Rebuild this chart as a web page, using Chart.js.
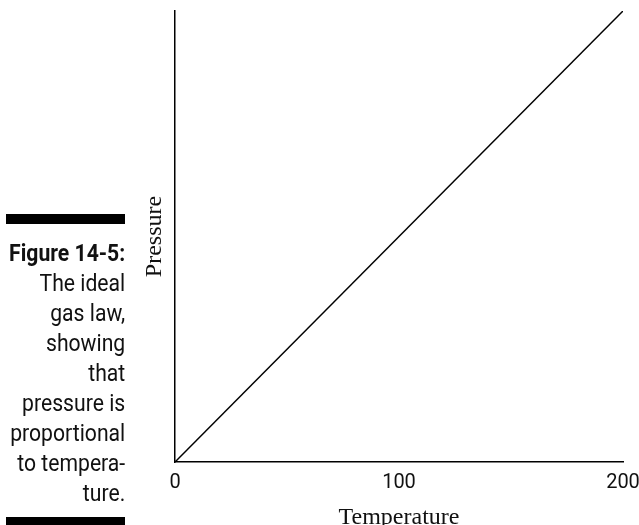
<!DOCTYPE html>
<html>
<head>
<meta charset="utf-8">
<script src="https://cdn.jsdelivr.net/npm/chart.js@4"></script>
<style>
  html, body { margin: 0; padding: 0; background: #fff; }
  #wrap { position: relative; width: 639px; height: 525px; overflow: hidden; }
  #chart { position: absolute; left: 0; top: 0; }
  .bar { position: absolute; left: 6px; width: 119px; background: #000; }
  #caption {
    position: absolute; right: 514px; top: 239px;
    text-align: right; color: #111; white-space: nowrap;
    font-family: Roboto, 'Liberation Sans', sans-serif;
    font-size: 23px; line-height: 30px;
    transform: scaleX(0.92); transform-origin: right top;
  }
  #caption b { font-weight: bold; }
</style>
</head>
<body>
<div id="wrap">
  <canvas id="chart" width="639" height="525"></canvas>
  <div class="bar" style="top:214px;height:10px"></div>
  <div id="caption"><b>Figure 14-5:</b><br>The ideal<br>gas law,<br>showing<br>that<br>pressure is<br>proportional<br>to tempera-<br>ture.</div>
  <div class="bar" style="top:517px;height:8px"></div>
</div>
<script>
// Data: a straight line through the origin
const temperature = [0, 200];
const pressure = [0, 200];
const xTicks = [0, 100, 200];

const sans = "Roboto, 'Liberation Sans', sans-serif";
const serif = "'Liberation Serif', 'DejaVu Serif', serif";

const ctx = document.getElementById('chart').getContext('2d');

new Chart(ctx, {
    type: 'line',
    data: {
        datasets: [{
            data: temperature.map((t, i) => ({ x: t, y: pressure[i] })),
            borderColor: '#000',
            borderWidth: 1.5,
            pointRadius: 0,
            fill: false,
            tension: 0
        }]
    },
    options: {
        responsive: false,
        animation: false,
        layout: { padding: { left: 139, top: 11, right: 0, bottom: -5 } },
        plugins: { legend: { display: false }, tooltip: { enabled: false } },
        scales: {
            x: {
                type: 'linear',
                min: 0,
                max: 200,
                afterBuildTicks: (axis) => { axis.ticks = xTicks.map(v => ({ value: v })); },
                // let the last label hang to the page edge like the original
                afterFit: (axis) => { axis.paddingRight = 16; axis.paddingLeft = 0; },
                grid: { display: false, drawTicks: false },
                border: { color: '#000', width: 1.5 },
                ticks: { color: '#111', font: { family: sans, size: 20, lineHeight: 1 }, padding: 11, maxRotation: 0 },
                title: {
                    display: true,
                    text: 'Temperature',
                    color: '#111',
                    font: { family: serif, size: 24, lineHeight: 1 },
                    padding: { top: 2, bottom: 0 }
                }
            },
            y: {
                type: 'linear',
                min: 0,
                max: 200,
                grid: { display: false, drawTicks: false },
                border: { color: '#000', width: 1.5 },
                ticks: { display: false },
                title: {
                    display: true,
                    text: 'Pressure',
                    color: '#111',
                    font: { family: serif, size: 24, lineHeight: 1 },
                    padding: { top: 4, bottom: 8 }
                }
            }
        }
    }
});
</script>
</body>
</html>
